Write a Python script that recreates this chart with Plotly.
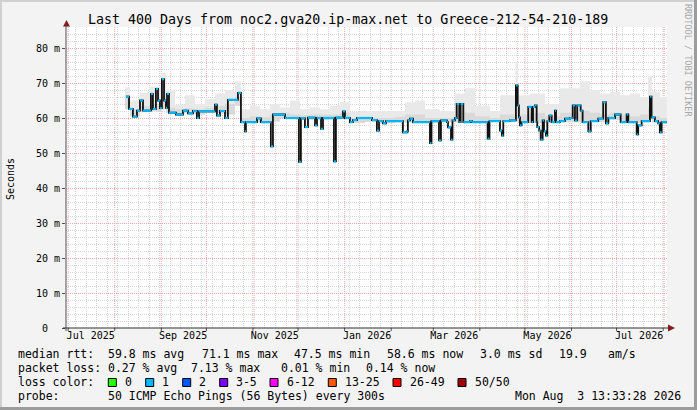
import pandas as pd
import plotly.graph_objects as go

# median rtt, days counted from 2025-07-01, value in ms (step changes)
med_day = [38.5, 40.5, 43.1, 45.8, 47.8, 49.8, 55.1, 56.4, 58.4, 59.8,
           61.1, 62.4, 63.8, 65.1, 65.8, 67.1, 71.7, 76.4, 79.7, 83.1,
           85.7, 87.1, 97.7, 99.0, 101.0, 104.4, 106.3, 113.0, 115.0, 117.7,
           118.3, 125.7, 128.3, 134.9, 136.3, 144.3, 153.6, 154.9, 157.6, 159.6,
           164.3, 165.6, 168.3, 169.6, 176.9, 178.2, 182.9, 184.2, 187.5, 189.5,
           192.2, 202.2, 205.5, 206.9, 209.5, 211.5, 222.8, 225.5, 226.1, 227.5,
           229.5, 240.8, 241.8, 246.8, 248.1, 252.1, 252.8, 254.8, 255.8, 257.4,
           258.6, 260.3, 261.2, 263.0, 267.4, 268.8, 279.2, 280.4, 287.4, 288.7,
           289.6, 294.0, 298.0, 299.2, 300.0, 300.7, 301.8, 306.2, 308.5, 309.4,
           310.7, 311.8, 312.2, 313.5, 314.5, 315.8, 316.7, 318.0, 318.9, 320.2,
           321.8, 324.0, 324.7, 327.3, 330.6, 334.0, 335.8, 337.3, 338.8, 341.1,
           342.4, 346.2, 347.8, 352.8, 356.1, 357.9, 359.5, 364.0, 367.7, 371.7,
           372.8, 378.4, 379.4, 381.7, 387.2, 388.3, 390.5, 392.7, 393.8, 395.0,
           398.5]
med_ms = [66.1, 62.6, 60.4, 62.1, 65.0, 62.1, 66.9, 62.6, 68.3, 65.0,
          62.8, 71.1, 65.0, 62.9, 66.9, 61.5, 61.0, 62.1, 61.3, 62.0,
          60.0, 61.9, 63.8, 60.7, 62.0, 60.0, 65.2, 67.2, 58.8, 56.2,
          58.8, 59.9, 58.8, 51.9, 61.0, 60.0, 47.5, 59.9, 57.4, 60.1,
          57.9, 60.0, 56.9, 60.0, 47.6, 60.1, 61.9, 60.0, 58.8, 59.4,
          60.0, 59.4, 56.4, 59.1, 58.5, 59.1, 55.9, 56.2, 59.3, 59.8,
          58.8, 52.8, 59.1, 53.6, 59.3, 58.8, 57.3, 53.8, 59.3, 60.0,
          64.0, 58.8, 64.0, 58.8, 59.1, 58.8, 54.1, 59.1, 56.4, 55.0,
          59.1, 59.3, 69.3, 63.6, 60.2, 57.9, 58.8, 63.2, 58.8, 63.2,
          63.6, 58.8, 57.4, 56.4, 53.8, 59.3, 56.2, 55.0, 59.1, 60.7,
          58.8, 62.1, 58.8, 59.1, 59.8, 60.0, 63.6, 59.3, 63.6, 62.1,
          58.8, 56.2, 59.1, 59.8, 64.5, 58.5, 60.0, 61.0, 58.8, 61.0,
          58.8, 55.3, 57.9, 59.1, 66.1, 60.2, 59.1, 58.5, 55.9, 58.8,
          58.6]

# smoke (ping spread) per period
smoke_day = [37.8, 41.1, 47.8, 54.4, 61.8, 65.1, 71.1, 77.7, 84.4, 91.0,
             97.7, 104.4, 111.0, 115.0, 121.0, 127.6, 134.3, 140.9, 147.6, 154.3,
             160.9, 167.6, 174.3, 180.9, 187.6, 197.6, 207.6, 217.6, 224.2, 230.9,
             237.5, 247.5, 257.5, 264.1, 270.8, 280.8, 287.4, 297.7, 299.4, 307.4,
             317.4, 327.4, 340.7, 347.4, 354.0, 360.7, 367.4, 374.0, 380.7, 386.0,
             388.7, 394.0, 398.5]
smoke_lo = [62.5, 60.5, 61.8, 62.0, 62.5, 61.5, 61.3, 61.5, 61.0, 61.5,
            61.5, 61.0, 63.5, 58.7, 58.7, 58.7, 59.0, 60.0, 59.8, 59.5,
            59.5, 59.5, 59.6, 59.8, 58.6, 58.9, 58.5, 58.8, 58.7, 58.6,
            58.6, 58.8, 58.8, 58.7, 58.7, 58.9, 58.9, 59.0, 58.6, 58.6,
            58.6, 58.8, 58.8, 59.0, 58.8, 59.5, 58.6, 58.6, 58.8, 59.5,
            58.7, 58.3, 58.3]
smoke_mid = [66.5, 62.5, 63.5, 64.0, 66.0, 63.0, 62.5, 62.8, 62.5, 63.0,
             63.5, 64.0, 66.0, 60.0, 60.5, 60.2, 61.0, 61.5, 61.0, 60.8,
             61.0, 61.0, 61.0, 61.5, 60.0, 60.0, 60.0, 60.3, 61.0, 61.0,
             60.0, 60.0, 62.0, 61.5, 60.5, 60.0, 61.0, 65.0, 61.0, 61.5,
             60.5, 61.5, 62.0, 61.5, 61.0, 61.5, 61.0, 60.5, 61.0, 63.0,
             60.5, 60.0, 60.0]
smoke_hi = [68.8, 65.0, 67.3, 69.0, 72.8, 68.0, 63.8, 66.5, 64.0, 65.5,
            67.0, 68.0, 70.5, 62.5, 63.5, 62.5, 64.0, 63.0, 65.0, 62.5,
            63.0, 62.5, 63.5, 64.5, 61.8, 62.0, 62.0, 62.0, 64.5, 65.0,
            62.5, 62.0, 67.0, 68.5, 63.5, 62.0, 66.5, 76.0, 66.5, 67.0,
            64.0, 68.5, 70.5, 68.0, 67.0, 67.5, 66.5, 67.0, 66.0, 72.0,
            67.5, 66.0, 66.0]

y_ticks = [0, 10, 20, 30, 40, 50, 60, 70, 80]
y_labels = ["0\u00a0\u00a0", "10 m", "20 m", "30 m", "40 m", "50 m", "60 m", "70 m", "80 m"]
x_tickvals = ["2025-07-16", "2025-09-15 12:00", "2025-11-15 12:00", "2026-01-16",
              "2026-03-15", "2026-05-16", "2026-07-16"]
x_ticktext = ["Jul 2025", "Sep 2025", "Nov 2025", "Jan 2026", "Mar 2026", "May 2026", "Jul 2026"]

loss_labels = ["0", "1", "2", "3-5", "6-12", "13-25", "26-49", "50/50"]
loss_colors = ["#26ff00", "#00b8ff", "#0059ff", "#7e00ff", "#ff00ff", "#ff5500", "#ff0000", "#a00000"]

base = pd.Timestamp("2025-07-01")
med_x = base + pd.to_timedelta(med_day, unit="D")
smoke_x = base + pd.to_timedelta(smoke_day, unit="D")

FONT = "DejaVu Sans Mono"
W, H = 697, 410
L, R, T, B = 66, 30, 27, 82
PW, PH = W - L - R, H - T - B


def px_x(p):
    return (p - L) / PW


def px_y(p):
    return (H - B - p) / PH


fig = go.Figure()

# smoke bands
fig.add_trace(go.Scatter(x=smoke_x, y=smoke_lo, mode="lines", line=dict(width=0, shape="hv"),
                         hoverinfo="skip"))
fig.add_trace(go.Scatter(x=smoke_x, y=smoke_hi, mode="lines", line=dict(width=0, shape="hv"),
                         fill="tonexty", fillcolor="#e9e9e9", hoverinfo="skip"))
fig.add_trace(go.Scatter(x=smoke_x, y=smoke_lo, mode="lines", line=dict(width=0, shape="hv"),
                         hoverinfo="skip"))
fig.add_trace(go.Scatter(x=smoke_x, y=smoke_mid, mode="lines", line=dict(width=0, shape="hv"),
                         fill="tonexty", fillcolor="#d9d9d9", hoverinfo="skip"))

# median: black step line, cyan on the flat parts (loss 1)
fig.add_trace(go.Scatter(x=med_x, y=med_ms, mode="lines",
                         line=dict(color="#111111", width=1.8, shape="hv")))
seg_x, seg_y = [], []
for i in range(len(med_ms) - 1):
    seg_x += [med_x[i], med_x[i + 1], None]
    seg_y += [med_ms[i], med_ms[i], None]
fig.add_trace(go.Scatter(x=seg_x, y=seg_y, mode="lines", line=dict(color="#00b8ff", width=2.2)))

shapes = []
# monthly red grid lines + small ticks
for m in pd.date_range("2025-07-01", "2026-08-01", freq="MS"):
    shapes.append(dict(type="line", xref="x", yref="paper", x0=m, x1=m, y0=0, y1=1, layer="below",
                       line=dict(color="#eeaaaa", width=1, dash="1px,1px")))
    shapes.append(dict(type="line", xref="x", yref="paper", x0=m, x1=m, y0=px_y(328), y1=px_y(331),
                       line=dict(color="#505050", width=1)))
# axes
shapes.append(dict(type="line", xref="paper", yref="paper", x0=0, x1=0, y0=px_y(331), y1=px_y(24),
                   line=dict(color="#505050", width=1)))
shapes.append(dict(type="line", xref="paper", yref="paper", x0=px_x(63), x1=px_x(670), y0=0, y1=0,
                   line=dict(color="#303030", width=1.2)))
# arrows
shapes.append(dict(type="path", xref="paper", yref="paper", fillcolor="#7f1f1f", line=dict(width=0),
                   path=f"M {px_x(63)} {px_y(26.5)} L {px_x(70)} {px_y(26.5)} L {px_x(66.5)} {px_y(20)} Z"))
shapes.append(dict(type="path", xref="paper", yref="paper", fillcolor="#7f1f1f", line=dict(width=0),
                   path=f"M {px_x(668)} {px_y(324.5)} L {px_x(668)} {px_y(331.5)} L {px_x(675)} {px_y(328)} Z"))
# image border
shapes.append(dict(type="line", xref="paper", yref="paper", x0=px_x(0), x1=px_x(697), y0=px_y(1), y1=px_y(1),
                   line=dict(color="#d0d0d0", width=2)))
shapes.append(dict(type="line", xref="paper", yref="paper", x0=px_x(1), x1=px_x(1), y0=px_y(0), y1=px_y(410),
                   line=dict(color="#d0d0d0", width=2)))
shapes.append(dict(type="line", xref="paper", yref="paper", x0=px_x(0), x1=px_x(697), y0=px_y(408.5), y1=px_y(408.5),
                   line=dict(color="#9c9c9c", width=3)))
shapes.append(dict(type="line", xref="paper", yref="paper", x0=px_x(695.5), x1=px_x(695.5), y0=px_y(0), y1=px_y(410),
                   line=dict(color="#9c9c9c", width=3)))

annotations = []


def text(x, y, s, size=11.5, color="#000000", anchor="left", angle=0):
    annotations.append(dict(x=px_x(x), y=px_y(y), xref="paper", yref="paper", text=s, showarrow=False,
                            xanchor=anchor, yanchor="middle", textangle=angle,
                            font=dict(family=FONT, size=size, color=color)))


text(348, 19, "Last 400 Days from noc2.gva20.ip-max.net to Greece-212-54-210-189", size=13.3, anchor="center")
text(10, 179, "Seconds", size=10, anchor="center", angle=-90)
text(688, 60, "RRDTOOL / TOBI OETIKER", size=8.5, color="#a8a8a8", anchor="center", angle=90)

# legend rows
row1 = [(16, "median rtt:"), (106, "59.8 ms avg"), (200, "71.1 ms max"), (292, "47.5 ms min"),
        (385, "58.6 ms now"), (478, "3.0 ms sd"), (557, "19.9"), (606, "am/s")]
row2 = [(16, "packet loss:"), (106, "0.27 % avg"), (189, "7.13 % max"), (279, "0.01 % min"),
        (364, "0.14 % now")]
row4 = [(16, "probe:"), (106, "50 ICMP Echo Pings (56 Bytes) every 300s"),
        (513, "Mon Aug\u00a0\u00a03 13:33:28 2026")]
for x, s in row1:
    text(x, 354, s)
for x, s in row2:
    text(x, 368, s)
for x, s in row4:
    text(x, 396, s)
text(16, 382, "loss color:")
box_x = [108.3, 145.7, 182.7, 219.7, 270, 328.3, 393, 458]
for bx, lab, col in zip(box_x, loss_labels, loss_colors):
    shapes.append(dict(type="rect", xref="paper", yref="paper", x0=px_x(bx), x1=px_x(bx + 8),
                       y0=px_y(378.5), y1=px_y(386.5), fillcolor=col, line=dict(color="#000000", width=1)))
    text(bx + 14.5, 382, lab)

fig.update_layout(
    width=W, height=H, margin=dict(l=L, r=R, t=T, b=B),
    paper_bgcolor="#f3f3f3", plot_bgcolor="#ffffff", showlegend=False,
    font=dict(family=FONT, size=10, color="#000000"),
    shapes=shapes, annotations=annotations,
    xaxis=dict(type="date", range=["2025-06-29 13:33:28", "2026-08-03 13:33:28"],
               tickmode="array", tickvals=x_tickvals, ticktext=x_ticktext, ticks="",
               showgrid=False, zeroline=False, showline=False, tickfont=dict(size=10),
               minor=dict(tickmode="linear", tick0="2025-07-06", dtick=7 * 24 * 3600 * 1000,
                          showgrid=True, gridcolor="#d6d6d6", griddash="1px,1px", gridwidth=1)),
    yaxis=dict(range=[0, 86], tickmode="array", tickvals=y_ticks, ticktext=y_labels,
               ticks="outside", ticklen=3, tickcolor="#505050", showline=False, zeroline=False,
               showgrid=True, gridcolor="#eeaaaa", griddash="1px,1px", gridwidth=1, tickfont=dict(size=10),
               minor=dict(dtick=2, showgrid=True, gridcolor="#d6d6d6", griddash="1px,1px", gridwidth=1)),
)

# the page body has a default margin; drop it so the figure sits at the window's corner
fig.write_html("out.html", config={"displayModeBar": False},
               post_script="document.body.style.margin='0px';")
